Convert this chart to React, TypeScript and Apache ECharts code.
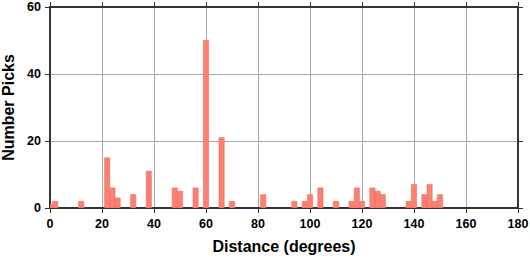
import React, { useEffect, useRef } from "react";
import * as echarts from "echarts";

const binCenters = [0, 2, 12, 22, 24, 26, 32, 38, 48, 50, 56, 60, 66, 70, 82, 94, 98, 100, 104, 110, 116, 118, 120, 124, 126, 128, 138, 140, 144, 146, 148, 150];
const pickCounts = [1, 2, 2, 15, 6, 3, 4, 11, 6, 5, 6, 50, 21, 2, 4, 2, 2, 4, 6, 2, 2, 6, 2, 6, 5, 4, 2, 7, 4, 7, 2, 4];
const binWidth = 2;
const xTicks = { min: 0, max: 180, interval: 20 };
const yTicks = { min: 0, max: 60, interval: 20 };

const FONT = "'Liberation Sans', Arial, Helvetica, sans-serif";
const FRAME = "#333333";

export default function App() {
  const ref = useRef<HTMLDivElement>(null);
  useEffect(() => {
    if (!ref.current) return;
    const chart = echarts.init(ref.current, null, { renderer: "svg" });
    const data = binCenters.map((c, i) => [c, pickCounts[i]]);
    const axisCommon = {
      axisLine: { show: true, onZero: false, lineStyle: { color: FRAME, width: 2 } },
      axisTick: { show: true, inside: false, length: 5, lineStyle: { color: FRAME, width: 1 } },
    };
    chart.setOption({
      animation: false,
      backgroundColor: "#ffffff",
      grid: { left: 50, right: 12, top: 7, bottom: 50, containLabel: false, outerBoundsMode: "none" },
      xAxis: [
        {
          type: "value",
          ...xTicks,
          position: "bottom",
          ...axisCommon,
          axisLabel: { color: "#000", fontFamily: FONT, fontWeight: "bold", fontSize: 12.5, margin: 9 },
          splitLine: { show: true, lineStyle: { color: "#a8a8a8", width: 1 } },
          name: "Distance (degrees)",
          nameLocation: "middle",
          nameGap: 30,
          nameTextStyle: { color: "#000", fontFamily: FONT, fontWeight: "bold", fontSize: 16 },
        },
        {
          type: "value",
          ...xTicks,
          position: "top",
          ...axisCommon,
          axisLabel: { show: false },
          splitLine: { show: false },
        },
      ],
      yAxis: [
        {
          type: "value",
          ...yTicks,
          position: "left",
          ...axisCommon,
          axisLabel: { color: "#000", fontFamily: FONT, fontWeight: "bold", fontSize: 12.5, margin: 9 },
          splitLine: { show: true, lineStyle: { color: "#a8a8a8", width: 1 } },
          name: "Number Picks",
          nameLocation: "middle",
          nameGap: 30,
          nameTextStyle: { color: "#000", fontFamily: FONT, fontWeight: "bold", fontSize: 16 },
        },
        {
          type: "value",
          ...yTicks,
          position: "right",
          ...axisCommon,
          axisLabel: { show: false },
          splitLine: { show: false },
        },
      ],
      series: [
        {
          type: "custom",
          clip: true,
          xAxisIndex: 0,
          yAxisIndex: 0,
          data,
          renderItem: (params: any, api: any) => {
            const c = api.value(0);
            const v = api.value(1);
            const p0 = api.coord([c - binWidth / 2, v]);
            const p1 = api.coord([c + binWidth / 2, 0]);
            const shape = echarts.graphic.clipRectByRect(
              { x: p0[0], y: p0[1], width: p1[0] - p0[0], height: p1[1] - p0[1] },
              {
                x: params.coordSys.x,
                y: params.coordSys.y,
                width: params.coordSys.width,
                height: params.coordSys.height,
              }
            );
            return shape
              ? {
                  type: "rect",
                  shape,
                  style: { fill: "#fb8173", stroke: "#f26a60", lineWidth: 0.6 },
                }
              : null;
          },
        },
      ],
    });
    return () => chart.dispose();
  }, []);
  return (
    <div
      ref={ref}
      style={{ position: "fixed", left: 0, top: 0, width: 530, height: 258 }}
    />
  );
}
